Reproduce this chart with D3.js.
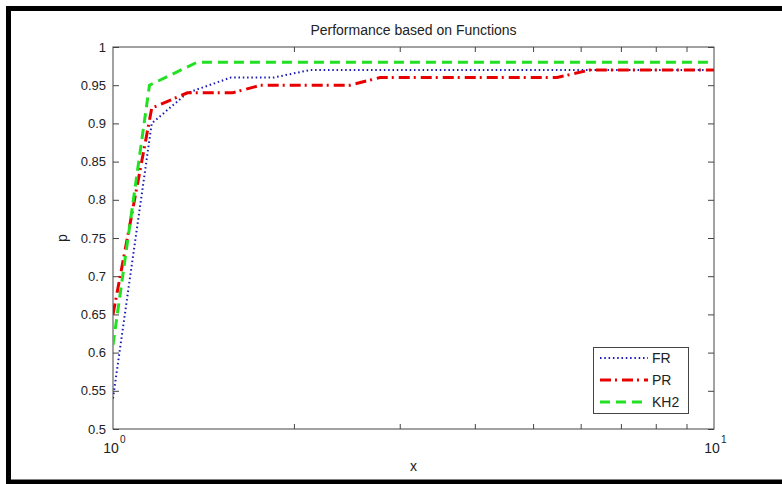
<!DOCTYPE html>
<html><head><meta charset="utf-8">
<script src="https://cdn.jsdelivr.net/npm/d3@7"></script>
<style>body{margin:0;background:#fff}svg{display:block}text{font-family:"Liberation Sans",Arial,Helvetica,sans-serif;fill:#222}</style>
</head><body><svg id="c" width="782" height="484"></svg>
<script>
// Data
const frX  = [1, 1.16, 1.33, 1.57, 1.85, 2.13, 10];
const frP  = [0.54, 0.90, 0.94, 0.96, 0.96, 0.97, 0.97];
const prX  = [1, 1.16, 1.33, 1.58, 1.76, 2.48, 2.78, 5.48, 6.22, 10];
const prP  = [0.65, 0.92, 0.94, 0.94, 0.95, 0.95, 0.96, 0.96, 0.97, 0.97];
const khX  = [1, 1.15, 1.38, 10];
const khP  = [0.61, 0.95, 0.98, 0.98];
const seriesNames = ["FR", "PR", "KH2"];
const yTicks = [0.5, 0.55, 0.6, 0.65, 0.7, 0.75, 0.8, 0.85, 0.9, 0.95, 1];
const yTickLabels = ["0.5","0.55","0.6","0.65","0.7","0.75","0.8","0.85","0.9","0.95","1"];
const xMinorTicks = [2, 3, 4, 5, 6, 7, 8, 9];
const xMajorTicks = [1, 10];
const xMajorExp = ["0", "1"];

const svg = d3.select("#c");
const L = 113, R = 714, T = 47, B = 429;
const x = d3.scaleLog().domain([1, 10]).range([L, R]);
const y = d3.scaleLinear().domain([0.5, 1]).range([B, T]);

// outer black frame
svg.append("rect").attr("x", 8.5).attr("y", 8.5).attr("width", 820).attr("height", 473.5)
  .attr("fill", "#fff").attr("stroke", "#000").attr("stroke-width", 5);

// title & labels
svg.append("text").attr("x", (L + R) / 2).attr("y", 35).attr("text-anchor", "middle")
  .attr("font-size", 14).text("Performance based on Functions");
svg.append("text").attr("x", (L + R) / 2).attr("y", 471).attr("text-anchor", "middle")
  .attr("font-size", 14).text("x");
svg.append("text").attr("transform", `translate(67,${(T + B) / 2}) rotate(-90)`)
  .attr("text-anchor", "middle").attr("font-size", 14).text("p");

// axes
const axCol = "#444";
const gL = svg.append("g").attr("transform", `translate(${L},0)`)
  .call(d3.axisLeft(y).tickValues(yTicks).tickSize(-6).tickPadding(7)
    .tickFormat((d, i) => yTickLabels[i]));
const gR = svg.append("g").attr("transform", `translate(${R},0)`)
  .call(d3.axisRight(y).tickValues(yTicks).tickSize(-6).tickFormat(""));
const gB = svg.append("g").attr("transform", `translate(0,${B})`)
  .call(d3.axisBottom(x).tickValues(xMinorTicks).tickSize(-5).tickFormat(""));
const gT = svg.append("g").attr("transform", `translate(0,${T})`)
  .call(d3.axisTop(x).tickValues(xMinorTicks).tickSize(-5).tickFormat(""));
[gL, gR, gB, gT].forEach(g => {
  g.select(".domain").remove();
  g.selectAll("line").attr("stroke", axCol);
  g.selectAll("text").attr("font-size", 13).attr("fill", "#222")
    .style("font-family", '"Liberation Sans",Arial,sans-serif');
});

// x major labels 10^0, 10^1
xMajorTicks.forEach((v, i) => {
  const t = svg.append("text").attr("font-size", 14);
  t.append("tspan").attr("x", x(v) - 2).attr("y", 453).attr("text-anchor", "middle").text("10");
  svg.append("text").attr("x", x(v) + 7).attr("y", 443).attr("font-size", 10).text(xMajorExp[i]);
});

// plot box
svg.append("rect").attr("x", L).attr("y", T).attr("width", R - L).attr("height", B - T)
  .attr("fill", "none").attr("stroke", axCol).attr("stroke-width", 1);

// lines
const line = d3.line().x(d => x(d[0])).y(d => y(d[1]));
const styles = [
  {name: seriesNames[0], xs: frX, ps: frP, color: "#1a1ab4", w: 2, dash: "1.5,2.8"},
  {name: seriesNames[1], xs: prX, ps: prP, color: "#e80000", w: 3, dash: "11,4,2,5"},
  {name: seriesNames[2], xs: khX, ps: khP, color: "#22e022", w: 3, dash: "10,6"}
];
const clip = svg.append("clipPath").attr("id", "pc").append("rect")
  .attr("x", L).attr("y", T).attr("width", R - L).attr("height", B - T);
styles.forEach(s => {
  svg.append("path").attr("clip-path", "url(#pc)")
    .datum(s.xs.map((v, i) => [v, s.ps[i]]))
    .attr("d", line).attr("fill", "none").attr("stroke", s.color)
    .attr("stroke-width", s.w).attr("stroke-dasharray", s.dash);
});

// legend
const lg = svg.append("g");
lg.append("rect").attr("x", 593.5).attr("y", 347.5).attr("width", 95).attr("height", 66)
  .attr("fill", "#fff").attr("stroke", axCol);
styles.forEach((s, i) => {
  const yy = 358 + i * 22;
  lg.append("line").attr("x1", 600).attr("x2", 648).attr("y1", yy).attr("y2", yy)
    .attr("stroke", s.color).attr("stroke-width", s.w).attr("stroke-dasharray", s.dash);
  lg.append("text").attr("x", 652).attr("y", yy + 5).attr("font-size", 14).text(s.name);
});
</script></body></html>
